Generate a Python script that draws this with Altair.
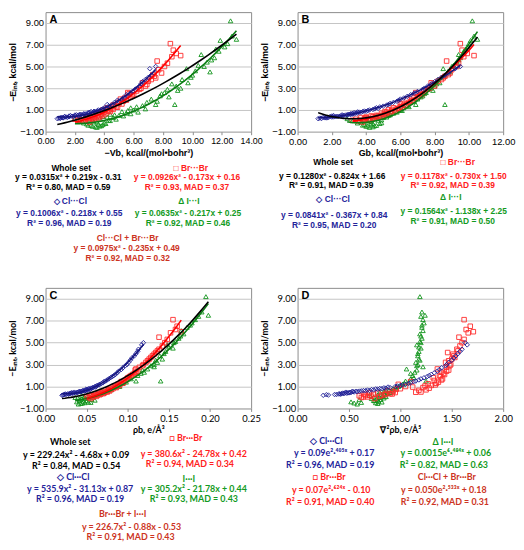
import altair as alt
import pandas as pd

# ---------------- data ----------------
# Cl...Cl contacts (open diamonds): -E_int and the four descriptors
cl_E   = [0.20,0.25,0.28,0.30,0.32,0.35,0.38,0.40,0.42,0.45,0.48,0.50,0.52,0.55,0.60,0.62,0.65,0.70,0.75,0.80,0.85,0.90,1.00,1.10,1.20,1.35,1.50,1.70,1.90,2.10,2.40,2.70,2.90,3.20,3.60,4.00,4.40,4.80,5.00,
          0.22,0.27,0.33,0.36,0.41,0.44,0.47,0.53,0.57,0.58,0.63,0.68,0.72,0.78,0.82,0.88,0.95,1.05,1.15,1.28,1.45,1.60,1.80,2.00,2.25,2.55,3.00,3.40,3.80,4.20]
cl_vb  = [0.8,0.9,1.0,1.2,1.1,1.4,1.6,1.3,1.8,2.0,1.7,2.2,2.5,2.1,2.4,2.8,2.6,3.0,2.9,3.3,3.1,3.5,3.6,3.9,4.0,4.3,4.2,4.7,4.9,5.3,5.5,5.9,6.1,6.4,6.6,7.0,7.4,7.1,7.5,
          1.0,1.2,1.5,1.3,1.9,1.6,2.3,2.0,2.6,2.3,2.7,2.9,3.2,3.0,3.4,3.3,3.7,3.8,4.1,4.4,4.5,4.8,5.0,5.2,5.6,5.8,6.2,6.5,6.8,7.2]
cl_gb  = [1.2,1.3,1.6,1.8,1.5,2.0,2.2,1.9,2.4,2.5,2.1,2.7,2.9,2.6,3.0,3.2,3.1,3.4,3.3,3.6,3.8,3.9,4.2,4.5,4.6,5.0,5.3,5.6,5.9,6.2,6.6,7.0,7.3,7.6,8.0,8.4,8.8,9.2,9.5,
          1.4,1.7,1.7,2.1,2.3,2.0,2.6,2.8,2.9,3.1,3.3,3.2,3.5,3.7,3.5,4.0,4.1,4.4,4.7,4.8,5.2,5.4,5.8,6.0,6.4,6.8,7.4,7.8,8.2,8.6]
cl_rho = [0.020,0.022,0.025,0.028,0.024,0.030,0.033,0.031,0.036,0.038,0.035,0.040,0.043,0.041,0.045,0.048,0.046,0.050,0.049,0.053,0.055,0.057,0.060,0.063,0.066,0.070,0.073,0.077,0.081,0.085,0.089,0.094,0.097,0.101,0.105,0.110,0.113,0.117,0.119,
          0.021,0.023,0.027,0.029,0.034,0.032,0.039,0.042,0.044,0.047,0.049,0.051,0.054,0.052,0.056,0.058,0.061,0.062,0.065,0.068,0.071,0.075,0.079,0.083,0.087,0.092,0.099,0.103,0.108,0.112]
cl_lap = [0.25,0.28,0.38,0.42,0.40,0.45,0.48,0.44,0.50,0.52,0.47,0.55,0.58,0.53,0.62,0.66,0.70,0.74,0.78,0.82,0.86,0.90,0.95,1.00,1.05,1.10,1.15,1.20,1.26,1.30,1.36,1.40,1.44,1.47,1.52,1.56,1.60,1.65,1.63,
          0.30,0.36,0.41,0.43,0.46,0.49,0.51,0.54,0.57,0.60,0.64,0.68,0.72,0.76,0.80,0.84,0.88,0.97,1.02,1.08,1.13,1.18,1.23,1.28,1.33,1.38,1.45,1.50,1.54,1.58]

# Br...Br contacts (open squares)
br_E   = [-0.10,0.00,0.05,0.10,0.15,0.20,0.25,0.30,0.35,0.40,0.45,0.50,0.60,0.70,0.80,0.90,1.00,1.10,1.20,1.30,1.45,1.60,1.80,2.00,2.20,2.40,2.60,2.90,3.20,3.50,3.80,4.10,4.40,4.70,5.00,5.30,5.50,5.90,6.20,6.50,7.10,6.00,
          0.05,0.12,0.18,0.22,0.28,0.32,0.38,0.42,0.48,0.55,0.65,0.75,0.85,0.95,1.05,1.15,1.25,1.40,1.55,1.70,1.90,2.10,2.30,2.50,2.75,3.00,3.35,3.65,3.95,4.25]
br_vb  = [3.0,2.6,2.2,2.4,2.0,3.3,2.8,3.1,2.5,3.5,3.0,3.4,3.8,3.6,4.0,4.3,3.9,4.5,4.2,4.8,4.6,5.0,5.3,5.1,5.8,6.0,5.6,6.4,6.8,6.6,7.2,7.4,7.9,7.7,8.1,8.3,7.6,8.6,8.9,8.7,8.5,9.2,
          2.9,2.7,3.2,2.9,3.6,3.3,3.7,3.2,3.9,3.6,4.1,3.9,4.4,4.2,4.6,4.4,4.9,4.7,5.2,5.0,5.5,5.4,5.9,5.7,6.2,6.5,6.9,7.0,7.5,7.3]
br_gb  = [3.8,3.5,3.2,4.2,3.4,3.9,4.5,3.7,4.0,4.8,4.3,4.6,5.0,4.9,5.2,5.5,5.3,5.8,5.6,6.0,6.2,6.1,6.6,6.4,7.0,7.2,6.9,7.6,8.0,7.8,8.4,8.6,8.9,9.0,9.3,9.4,8.7,9.7,9.9,9.6,9.5,10.3,
          3.6,3.9,4.1,4.4,4.0,4.6,4.4,4.9,4.7,5.1,5.2,5.4,5.1,5.7,5.5,5.9,6.1,6.3,6.0,6.5,6.7,6.8,7.1,7.3,7.4,7.7,7.9,8.2,8.5,8.8]
br_rho = [0.055,0.052,0.058,0.062,0.054,0.060,0.066,0.064,0.070,0.068,0.072,0.075,0.078,0.076,0.082,0.086,0.084,0.090,0.088,0.094,0.092,0.098,0.100,0.104,0.108,0.112,0.110,0.118,0.122,0.126,0.130,0.134,0.138,0.142,0.145,0.148,0.138,0.152,0.158,0.160,0.155,0.165,
          0.050,0.056,0.059,0.063,0.061,0.067,0.065,0.071,0.069,0.074,0.077,0.080,0.079,0.085,0.087,0.089,0.091,0.095,0.096,0.099,0.102,0.106,0.110,0.109,0.114,0.119,0.124,0.128,0.132,0.136]
br_lap = [0.75,0.62,0.68,0.80,0.60,0.70,0.85,0.65,0.90,0.78,0.95,1.20,0.88,1.25,1.00,1.22,1.05,1.30,0.98,1.35,1.10,1.40,1.32,1.38,1.42,1.45,1.36,1.48,1.44,1.50,1.52,1.46,1.55,1.58,1.60,1.62,1.57,1.66,1.64,1.68,1.62,1.71,
          0.64,0.72,0.66,0.82,0.74,0.92,0.86,0.70,1.15,0.93,1.18,0.96,1.28,1.12,1.24,1.34,1.27,1.37,1.33,1.41,1.39,1.43,1.40,1.47,1.45,1.49,1.47,1.53,1.51,1.56]

# I...I contacts (open triangles)
i_E   = [-0.60,-0.50,-0.45,-0.40,-0.30,-0.25,-0.20,-0.10,0.00,0.05,0.10,0.20,0.30,0.40,0.50,0.60,0.70,0.85,1.00,1.20,1.40,1.50,1.70,2.00,2.30,2.60,2.90,3.20,3.50,3.80,4.20,4.50,4.80,5.10,5.40,5.80,6.10,6.40,6.80,7.10,7.50,7.80,7.40,9.20,1.50,2.80,
         -0.55,-0.48,-0.42,-0.35,-0.28,-0.18,-0.12,-0.05,0.02,0.08,0.15,0.25,0.35,0.45,0.55,0.65,0.80,0.95,1.10,1.30,1.80,2.20,2.50,3.00,3.40,4.00,4.60,5.00,5.60,6.60]
i_vb  = [3.5,3.2,3.8,2.9,3.6,4.1,2.6,3.3,2.3,4.3,3.0,2.0,4.6,3.9,5.0,4.4,5.5,5.2,6.0,5.8,6.6,7.5,6.9,7.2,7.8,8.1,8.3,8.9,9.7,9.3,10.0,11.2,9.6,10.4,11.0,11.5,10.6,11.8,12.2,12.4,13.0,12.7,11.9,12.6,8.8,9.0,
         3.4,3.7,3.1,3.9,2.8,4.0,3.5,2.5,4.4,3.2,4.8,3.7,4.2,5.3,4.7,5.8,6.3,5.6,6.8,6.2,7.6,8.4,7.9,9.2,8.6,9.9,10.2,10.8,11.3,11.6]
i_gb  = [4.2,4.0,4.5,3.8,4.3,4.8,3.5,4.1,3.2,4.7,3.9,2.9,5.0,4.6,5.3,5.0,5.6,5.5,6.0,6.2,6.4,6.9,6.6,7.0,7.3,7.5,7.6,8.0,8.3,8.2,8.6,8.9,8.5,9.1,9.3,9.5,9.4,9.7,9.9,10.0,10.5,10.3,10.1,10.2,8.6,7.9,
         4.4,4.1,4.6,3.9,4.4,4.9,3.7,4.3,3.6,4.9,4.2,4.5,5.2,4.8,5.4,5.3,5.8,6.1,5.9,6.5,6.8,7.2,7.4,7.8,8.1,8.4,8.8,9.0,9.4,9.8]
i_rho = [0.040,0.045,0.055,0.038,0.050,0.060,0.042,0.048,0.036,0.058,0.052,0.044,0.065,0.062,0.072,0.068,0.080,0.076,0.090,0.088,0.098,0.110,0.104,0.112,0.120,0.124,0.128,0.136,0.142,0.139,0.146,0.155,0.148,0.158,0.162,0.168,0.165,0.172,0.178,0.182,0.198,0.190,0.186,0.195,0.140,0.132,
         0.043,0.048,0.052,0.046,0.041,0.056,0.044,0.039,0.054,0.047,0.060,0.057,0.063,0.066,0.070,0.074,0.078,0.083,0.086,0.094,0.101,0.116,0.118,0.132,0.134,0.144,0.150,0.156,0.164,0.176]
i_lap = [0.58,0.55,0.62,0.52,0.75,0.78,0.60,0.72,0.80,0.74,0.82,0.70,0.85,0.88,0.80,0.92,0.86,0.95,0.98,1.02,1.08,1.05,1.10,1.12,1.14,1.06,1.16,1.15,1.18,1.17,1.18,1.20,1.16,1.19,1.21,1.19,1.22,1.21,1.23,1.22,1.24,1.21,1.20,1.19,1.25,1.22,
         0.78,0.76,0.82,0.79,0.74,0.81,0.77,0.84,0.79,0.86,0.83,0.78,0.87,0.90,0.84,0.89,0.93,0.96,1.00,1.04,1.13,1.10,1.16,1.17,1.19,1.17,1.18,1.20,1.20,1.21]

series_names = ["Cl", "Br", "I"]
point_colors = ["#1f1f96", "#ff2b2b", "#11941b"]
point_shapes = ["diamond", "square", "triangle-up"]
line_colors = {"Cl": "#16167e", "Br": "#ff0000", "I": "#0c7d14"}

frames = []
for name, E, vb, gb, rho, lap in [
    ("I", i_E, i_vb, i_gb, i_rho, i_lap),
    ("Br", br_E, br_vb, br_gb, br_rho, br_lap),
    ("Cl", cl_E, cl_vb, cl_gb, cl_rho, cl_lap),
]:
    frames.append(pd.DataFrame({"series": name, "E": E, "Vb": vb, "Gb": gb, "rho": rho, "lap": lap}))
df = pd.concat(frames, ignore_index=True)

BLACK = "#000000"
BLUE = "#23239a"
RED = "#ff2020"
GREEN = "#129a22"
DRED = "#cc3322"

# annotation texts (text, colour) and their placement below each panel
ann_A = [
    ("Whole set", BLACK, 26, 158), ("\u25a1 Br\u00b7\u00b7\u00b7Br", RED, 147, 158),
    ("y = 0.0315x\u00b2 + 0.219x - 0.31", BLACK, 23, 167), ("y = 0.0926x\u00b2 - 0.173x + 0.16", RED, 143, 167),
    ("R\u00b2 = 0.80, MAD = 0.59", BLACK, 23, 177), ("R\u00b2 = 0.93, MAD = 0.37", RED, 143, 177),
    ("\u25c7 Cl\u00b7\u00b7\u00b7Cl", BLUE, 25, 191), ("\u0394 I\u00b7\u00b7\u00b7I", GREEN, 145, 191),
    ("y = 0.1006x\u00b2 - 0.218x + 0.55", BLUE, 24, 203), ("y = 0.0635x\u00b2 - 0.217x + 0.25", GREEN, 144, 203),
    ("R\u00b2 = 0.96, MAD = 0.19", BLUE, 24, 213), ("R\u00b2 = 0.92, MAD = 0.46", GREEN, 144, 213),
    ("Cl\u00b7\u00b7\u00b7Cl + Br\u00b7\u00b7\u00b7Br", DRED, 83, 229),
    ("y = 0.0975x\u00b2 - 0.235x + 0.49", DRED, 82, 239),
    ("R\u00b2 = 0.92, MAD = 0.32", DRED, 83, 249),
]
ann_B = [
    ("Whole set", BLACK, 36, 152), ("\u25a1 Br\u00b7\u00b7\u00b7Br", RED, 162, 152),
    ("y = 0.1280x\u00b2 - 0.824x + 1.66", BLACK, 35, 166), ("y = 0.1178x\u00b2 - 0.730x + 1.50", RED, 158, 166),
    ("R\u00b2 = 0.91, MAD = 0.39", BLACK, 34, 175), ("R\u00b2 = 0.92, MAD = 0.39", RED, 157, 175),
    ("\u25c7 Cl\u00b7\u00b7\u00b7Cl", BLUE, 36, 189), ("\u0394 I\u00b7\u00b7\u00b7I", GREEN, 155, 187),
    ("y = 0.0841x\u00b2 - 0.367x + 0.84", BLUE, 37, 205), ("y = 0.1564x\u00b2 - 1.138x + 2.25", GREEN, 158, 201),
    ("R\u00b2 = 0.95, MAD = 0.20", BLUE, 37, 215), ("R\u00b2 = 0.91, MAD = 0.50", GREEN, 157, 211),
]
ann_C = [
    ("Whole set", BLACK, 25, 156), ("\u25a1 Br\u00b7\u00b7\u00b7Br", RED, 142, 152),
    ("y = 229.24x\u00b2 - 4.68x + 0.09", BLACK, 31, 169), ("y = 380.6x\u00b2 - 24.78x + 0.42", RED, 150, 168),
    ("R\u00b2 = 0.84, MAD = 0.54", BLACK, 31, 180), ("R\u00b2 = 0.94, MAD = 0.34", RED, 146, 178),
    ("\u25c7 Cl\u00b7\u00b7\u00b7Cl", BLUE, 28, 191), ("I\u00b7\u00b7\u00b7I", GREEN, 145, 193),
    ("y = 535.9x\u00b2 - 31.13x + 0.87", BLUE, 35, 204), ("y = 305.2x\u00b2 - 21.78x + 0.44", GREEN, 150, 204),
    ("R\u00b2 = 0.96, MAD = 0.19", BLUE, 35, 214), ("R\u00b2 = 0.93, MAD = 0.43", GREEN, 150, 214),
    ("Br\u00b7\u00b7\u00b7Br + I\u00b7\u00b7\u00b7I", DRED, 78, 229),
    ("y = 226.7x\u00b2 - 0.88x - 0.53", DRED, 87, 242),
    ("R\u00b2 = 0.91, MAD = 0.43", DRED, 86, 252),
]
ann_D = [
    ("\u25c7 Cl\u00b7\u00b7\u00b7Cl", BLUE, 29, 155), ("\u0394 I\u00b7\u00b7\u00b7I", GREEN, 147, 156),
    ("y = 0.09e\u00b2\u00b7\u2074\u2070\u2075\u02e3 + 0.17", BLUE, 37, 167), ("y = 0.0015e\u2076\u00b7\u2074\u2078\u2074\u02e3 + 0.06", GREEN, 150, 167),
    ("R\u00b2 = 0.96, MAD = 0.19", BLUE, 33, 179), ("R\u00b2 = 0.82, MAD = 0.63", GREEN, 148, 179),
    ("\u25a1 Br\u00b7\u00b7\u00b7Br", RED, 32, 191), ("Cl\u00b7\u00b7\u00b7Cl + Br\u00b7\u00b7\u00b7Br", DRED, 151, 191),
    ("y = 0.07e\u00b2\u00b7\u2076\u00b2\u2074\u02e3 - 0.10", RED, 34, 205), ("y = 0.050e\u00b2\u00b7\u2075\u00b3\u00b3\u02e3 + 0.18", DRED, 148, 205),
    ("R\u00b2 = 0.91, MAD = 0.40", RED, 33, 217), ("R\u00b2 = 0.92, MAD = 0.31", DRED, 149, 217),
]

Y_TITLE = "\u2212E\u1d62\u2099\u209c, kcal/mol"
Y_TICKS = [-1, 1, 3, 5, 7, 9]


def panel(xf, dom, ticks, fmt, xtitle, letter, w, h, font, fits, ann, afs, xlfs):
    xenc = alt.X(f"{xf}:Q", scale=alt.Scale(domain=dom, nice=False, zero=False),
                 axis=alt.Axis(values=ticks, tickCount=len(ticks), format=fmt, title=xtitle, grid=False,
                               ticks=True, tickSize=3, labelFont=font, titleFont=font,
                               labelFontSize=xlfs, titleFontSize=9, titleFontWeight="bold",
                               labelPadding=2, titlePadding=3, domain=False, labelOverlap=False,
                               labelFlush=False))
    yenc = alt.Y("E:Q", scale=alt.Scale(domain=[-1, 10], nice=False, zero=False),
                 axis=alt.Axis(values=Y_TICKS, tickCount=len(Y_TICKS), format=".2f", title=Y_TITLE, grid=True,
                               ticks=False, labelFont=font, titleFont=font, labelFontSize=9.5,
                               titleFontSize=9, titleFontWeight="bold", labelPadding=2,
                               titlePadding=2, domain=False, labelOverlap=False, labelFlush=False))
    pts = alt.Chart(df).mark_point(filled=False, size=21, strokeWidth=0.9, opacity=1).encode(
        x=xenc, y=yenc,
        shape=alt.Shape("series:N", scale=alt.Scale(domain=series_names, range=point_shapes), legend=None),
        color=alt.Color("series:N", scale=alt.Scale(domain=series_names, range=point_colors), legend=None),
    )
    layers = [pts]
    if fits:
        for s in ["I", "Br", "Cl"]:
            layers.append(
                alt.Chart(df).transform_filter(alt.datum.series == s)
                .transform_regression(xf, "E", method="poly", order=2)
                .mark_line(color=line_colors[s], strokeWidth=1.6, clip=True)
                .encode(x=f"{xf}:Q", y="E:Q")
            )
        layers.append(
            alt.Chart(df).transform_regression(xf, "E", method="poly", order=2)
            .mark_line(color="black", strokeWidth=1.6, clip=True)
            .encode(x=f"{xf}:Q", y="E:Q")
        )
    layers.append(
        alt.Chart(pd.DataFrame({"t": [letter]})).mark_text(
            align="left", baseline="top", fontWeight="bold", fontSize=11, font="Liberation Sans", color="black"
        ).encode(text="t:N", x=alt.value(4), y=alt.value(2))
    )
    for t, c, ax, ay in ann:
        layers.append(
            alt.Chart(pd.DataFrame({"t": [t]})).mark_text(
                align="center", baseline="middle", fontWeight="bold", fontSize=afs, font=font, color=c
            ).encode(text="t:N", x=alt.value(ax), y=alt.value(ay))
        )
    return alt.layer(*layers).properties(width=w, height=h)


pA = panel("Vb", [0, 14], [0, 2, 4, 6, 8, 10, 12, 14], ".2f", "\u2212Vb, kcal/(mol\u2022bohr\u00b3)", "A",
           208, 121, "Liberation Sans", True, ann_A, 8.5, 9)
pB = panel("Gb", [0, 12], [0, 2, 4, 6, 8, 10, 12], ".2f", "Gb, kcal/(mol\u2022bohr\u00b3)", "B",
           208, 121, "Liberation Sans", True, ann_B, 8.5, 9.5)
pC = panel("rho", [0, 0.25], [0, 0.05, 0.1, 0.15, 0.2, 0.25], ".2f", "\u03c1b, e/\u00c5\u00b3", "C",
           208, 122, "Lato", True, ann_C, 9, 9.5)
pD = panel("lap", [0, 2], [0, 0.5, 1, 1.5, 2], ".2f", "\u2207\u00b2\u03c1b, e/\u00c5\u2075", "D",
           208, 122, "Lato", False, ann_D, 9, 9.5)

chart = alt.concat(
    pA, pB, pC, pD, columns=2, bounds="flush",
    spacing=alt.RowColnumber(row=158, column=47),
).properties(
    padding=0, background="white"
).configure_view(stroke="#8c8c8c", strokeWidth=1).configure_axis(
    gridColor="#c4c4c4", gridWidth=1, labelColor="black", titleColor="black", tickColor="#8c8c8c"
)

chart.save("out.html", embed_options={"renderer": "svg", "actions": False})
